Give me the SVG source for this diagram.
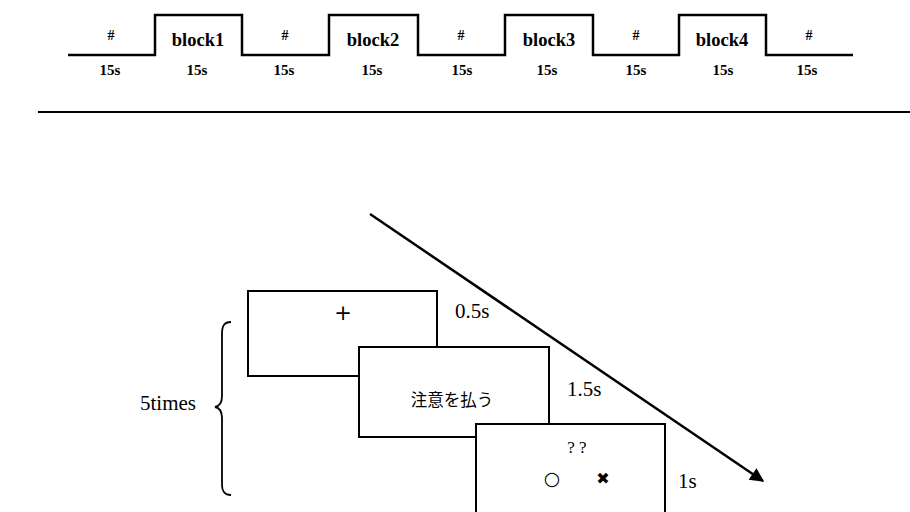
<svg xmlns="http://www.w3.org/2000/svg" width="910" height="512" viewBox="0 0 910 512">
<style>
.wave{fill:none;stroke:#000;stroke-width:2.5}
.lbl{font-family:"Liberation Serif",serif;font-weight:bold;text-anchor:middle;fill:#000}
.blk{font-size:18.5px}
.hash{font-size:14px}
.dur{font-size:15px}
.box{fill:#fff;stroke:#000;stroke-width:2}
.t{font-family:"Liberation Serif",serif;font-size:21px;fill:#000}
.jp{font-family:"Noto Sans CJK JP",sans-serif;font-size:16.5px;text-anchor:middle;fill:#000}
</style>
<defs>
<marker id="ah" viewBox="0 0 10 10" refX="9" refY="5" markerWidth="16" markerHeight="14" markerUnits="userSpaceOnUse" orient="auto">
<path d="M0,0 L10,5 L0,10 z" fill="#000"/>
</marker>
</defs>
<g id="timeline">
<path class="wave" d="M68,55 H155 V15 H242 V55 H329 V15 H418 V55 H505 V15 H593 V55 H679 V15 H766 V55 H853"/>
<text class="lbl blk" x="198" y="46">block1</text>
<text class="lbl blk" x="373" y="46">block2</text>
<text class="lbl blk" x="549" y="46">block3</text>
<text class="lbl blk" x="722" y="46">block4</text>
<text class="lbl hash" x="111" y="40">#</text>
<text class="lbl hash" x="285" y="40">#</text>
<text class="lbl hash" x="461" y="40">#</text>
<text class="lbl hash" x="636" y="40">#</text>
<text class="lbl hash" x="809" y="40">#</text>
<text class="lbl dur" x="110" y="75">15s</text>
<text class="lbl dur" x="197" y="75">15s</text>
<text class="lbl dur" x="284" y="75">15s</text>
<text class="lbl dur" x="372" y="75">15s</text>
<text class="lbl dur" x="462" y="75">15s</text>
<text class="lbl dur" x="547" y="75">15s</text>
<text class="lbl dur" x="636" y="75">15s</text>
<text class="lbl dur" x="723" y="75">15s</text>
<text class="lbl dur" x="807" y="75">15s</text>
</g>
<line x1="38" y1="112" x2="910" y2="112" stroke="#000" stroke-width="2"/>
<g id="connectors">
<line x1="370" y1="214" x2="763" y2="481" stroke="#000" stroke-width="2.5" marker-end="url(#ah)"/>
</g>
<g id="screen1">
<rect class="box" x="248" y="291" width="189" height="85"/>
<text x="343" y="320" font-family="DejaVu Sans,sans-serif" font-size="21" text-anchor="middle">+</text>
</g>
<g id="screen2">
<rect class="box" x="359" y="347" width="190" height="90"/>
<text class="jp" x="452" y="406">注意を払う</text>
</g>
<g id="screen3">
<rect class="box" x="476" y="424" width="189" height="100"/>
<text x="577" y="453" font-family="Liberation Serif,serif" font-size="17" text-anchor="middle">? ?</text>
<text x="552" y="485" font-family="DejaVu Sans,sans-serif" font-size="19" text-anchor="middle">○</text>
<text x="603" y="484" font-family="DejaVu Sans,sans-serif" font-size="16" text-anchor="middle">✖</text>
</g>
<g id="durations">
<text class="t" x="455" y="318">0.5s</text>
<text class="t" x="567" y="396">1.5s</text>
<text class="t" x="678" y="488">1s</text>
</g>
<g id="repeat">
<path d="M231,322 C224,322 222,326 222,334 V396 C222,403 220,406 215,407 C220,408 222,411 222,418 V484 C222,491 224,495 231,495" fill="none" stroke="#000" stroke-width="1.8"/>
<text class="t" x="140" y="410">5times</text>
</g>
</svg>
